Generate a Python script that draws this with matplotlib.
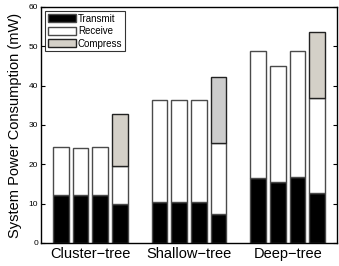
import numpy as np
import matplotlib.pyplot as plt

plt.rcParams['font.family'] = ['Liberation Sans', 'DejaVu Sans']

groups = ['Cluster\u2212tree', 'Shallow\u2212tree', 'Deep\u2212tree']
# four bars per group, stacked: transmit / receive / compress (mW)
transmit = [12.3, 12.3, 12.3, 9.9,
            10.4, 10.4, 10.4, 7.4,
            16.4, 15.5, 16.7, 12.6]
receive = [12.2, 11.9, 12.2, 9.7,
           25.9, 25.9, 25.9, 18.1,
           32.3, 29.5, 32.1, 24.3]
compress = [0, 0, 0, 13.3,
            0, 0, 0, 16.8,
            0, 0, 0, 16.7]
compress_colors = ['#d4d0c8', '#cccccc', '#d4d0c8']

fig = plt.figure(figsize=(3.39, 2.66), dpi=100)
ax = fig.add_axes([0.121, 0.0865, 0.873, 0.8875])

pos = []
for g in range(3):
    pos += [g * 5 + 1 + i for i in range(4)]
pos = np.array(pos)
transmit = np.array(transmit)
receive = np.array(receive)
compress = np.array(compress)

w = 0.8
ec = '#4a4a4a'
ax.bar(pos, transmit, w, color='black', edgecolor=ec, linewidth=1, label='Transmit')
ax.bar(pos, receive, w, bottom=transmit, color='white', edgecolor=ec, linewidth=1, label='Receive')
cc = [compress_colors[i // 4] for i in range(12)]
mask = compress > 0
ax.bar(pos[mask], compress[mask], w, bottom=(transmit + receive)[mask],
       color=[c for c, m in zip(cc, mask) if m], edgecolor='#222222', linewidth=1)
# legend entry for compress
ax.bar([0], [0], 0, color='#d4d0c8', edgecolor='#222222', linewidth=1, label='Compress')

ax.set_xlim(0, 15)
ax.set_ylim(0, 60)
ax.set_yticks(range(0, 61, 10))
ax.set_xticks([2.5, 7.5, 12.5])
ax.set_xticklabels(groups, fontsize=10.5)
ax.tick_params(axis='x', length=0, pad=3)
ax.tick_params(axis='y', labelsize=6, direction='in', length=3, right=True, pad=2)
ax.set_ylabel('System Power Consumption (mW)', fontsize=10.5, labelpad=5)

leg = ax.legend(loc='upper left', fontsize=7, frameon=True, fancybox=False,
                edgecolor='black', handlelength=2.9, handleheight=0.85,
                handletextpad=0.2, labelspacing=0.25, borderpad=0.3,
                borderaxespad=0.4)
leg.get_frame().set_linewidth(0.8)

for s in ax.spines.values():
    s.set_linewidth(1)

fig.savefig('out.png', dpi=100)
